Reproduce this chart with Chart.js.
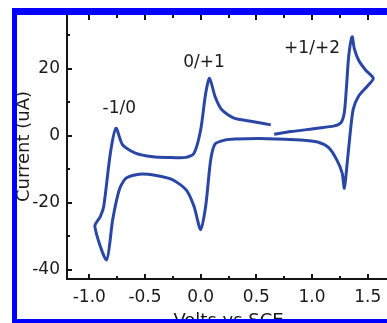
<!DOCTYPE html>
<html>
<head>
<meta charset="utf-8">
<script src="https://cdn.jsdelivr.net/npm/chart.js@4/dist/chart.umd.min.js"></script>
<style>
  html, body { margin: 0; padding: 0; background: #fff; overflow: hidden; }
  .grafico { position: absolute; left: 0; top: 0; width: 390px; height: 323px; }
  .moldura {
    position: absolute; left: 12px; top: 8px; width: 400px; height: 315px;
    box-sizing: border-box;
    border-left: 5px solid #0000ff; border-top: 7px solid #0000ff; border-bottom: 4px solid #0000ff;
  }
</style>
</head>
<body>
<div class="grafico"><canvas id="cv"></canvas></div>
<div class="moldura"></div>
<script>
// voltamograma: potencial (V vs SCE) e corrente (uA), na ordem da varredura
const volts = [0.63, 0.45, 0.30, 0.19, 0.13, 0.08, 0.045, 0.0, -0.06, -0.13, -0.30, -0.43, -0.58, -0.70, -0.76,
  -0.81, -0.87, -0.90, -0.95, -0.845, -0.79, -0.73, -0.67, -0.55, -0.40, -0.25, -0.13, -0.06, 0.0,
  0.045, 0.09, 0.13, 0.22, 0.31, 0.6, 0.9, 1.05, 1.15, 1.22, 1.27, 1.29, 1.31, 1.34, 1.37, 1.42, 1.50,
  1.55, 1.48, 1.42, 1.38, 1.36, 1.33, 1.31, 1.29, 1.26, 1.2, 1.05, 0.81, 0.66]
const corrente = [3.3, 4.4, 5.3, 7.8, 11.7, 17.2, 12.7, 1.8, -5.2, -6.4, -6.4, -6.2, -5.2, -2.7, 2.3,
  -5, -21, -24, -27, -37, -25, -16, -12.6, -11.4, -11.8, -13.1, -16.1, -21, -28,
  -21, -7.2, -2.4, -1.2, -0.9, -0.8, -1.2, -1.8, -3.5, -7, -11, -15.6, -10, 0, 8, 12, 15,
  17.2, 19.7, 22.5, 26, 29.6, 24, 15, 7, 4, 3, 2.3, 1.3, 0.5]

const xTicks = [-1.0, -0.5, 0.0, 0.5, 1.0, 1.5]
const xMinor = [-0.75, -0.25, 0.25, 0.75, 1.25]
const yTicks = [-40, -20, 0, 20]
const yMinor = [-30, -10, 10, 30]

// rotulos dos pares redox e onde ficam (V, uA)
const rotulos = ['-1/0', '0/+1', '+1/+2']
const rotuloV = [-0.73, 0.03, 1.0]
const rotuloI = [8.1, 21.9, 26]

const fonte = 'DejaVu Sans'

const eixos = {
  id: 'eixos',
  afterDraw(chart) {
    const { ctx, chartArea: a } = chart
    const x = chart.scales.x
    const y = chart.scales.y
    ctx.save()
    ctx.strokeStyle = '#151515'
    ctx.lineWidth = 2
    ctx.beginPath()
    ctx.moveTo(a.right, a.top)
    ctx.lineTo(a.left, a.top)
    ctx.lineTo(a.left, a.bottom)
    ctx.lineTo(a.right, a.bottom)
    ctx.stroke()

    // marcas para dentro
    ctx.lineWidth = 2
    ctx.beginPath()
    xTicks.concat(xMinor).forEach(v => {
      const px = Math.round(x.getPixelForValue(v))
      const len = xTicks.includes(v) ? 5 : 3
      ctx.moveTo(px, a.bottom)
      ctx.lineTo(px, a.bottom - len)
      ctx.moveTo(px, a.top)
      ctx.lineTo(px, a.top + len + 1)
    })
    yTicks.concat(yMinor).forEach(v => {
      const py = Math.round(y.getPixelForValue(v))
      const len = yTicks.includes(v) ? 5 : 3
      ctx.moveTo(a.left, py)
      ctx.lineTo(a.left + len, py)
    })
    ctx.stroke()

    ctx.fillStyle = '#1a1a1a'
    ctx.font = '17px "' + fonte + '"'
    ctx.textAlign = 'center'
    ctx.textBaseline = 'middle'
    rotulos.forEach((t, k) => {
      ctx.fillText(t, x.getPixelForValue(rotuloV[k]), y.getPixelForValue(rotuloI[k]))
    })
    ctx.restore()
  }
}

new Chart(document.getElementById('cv'), {
  type: 'scatter',
  data: {
    datasets: [
      {
        data: volts.map((v, k) => ({ x: v, y: corrente[k] })),
        showLine: true,
        borderColor: '#2b47a6',
        borderWidth: 3,
        pointRadius: 0,
        tension: 0.25,
        fill: false
      }
    ]
  },
  options: {
    responsive: true,
    maintainAspectRatio: false,
    animation: false,
    layout: { padding: { top: 14, right: 0, left: 0, bottom: 0 } },
    plugins: { legend: { display: false }, tooltip: { enabled: false } },
    scales: {
      x: {
        min: -1.2,
        max: 1.7,
        afterBuildTicks: s => { s.ticks = xTicks.map(v => ({ value: v })) },
        afterFit: s => {
          s.height = 44
          s.paddingLeft = 0
          s.paddingRight = 0
        },
        grid: { display: false, drawTicks: false },
        border: { display: false },
        ticks: {
          padding: 8,
          color: '#1a1a1a',
          font: { family: fonte, size: 17 },
          maxRotation: 0,
          callback: v => v.toFixed(1)
        },
        title: {
          display: true,
          text: 'Volts vs SCE',
          color: '#1a1a1a',
          font: { family: fonte, size: 18 },
          padding: { top: 0, bottom: -9 }
        }
      },
      y: {
        min: -42.7,
        max: 36.4,
        afterBuildTicks: s => { s.ticks = yTicks.map(v => ({ value: v })) },
        afterFit: s => {
          s.width = 67
          s.paddingTop = 0
          s.paddingBottom = 0
        },
        grid: { display: false, drawTicks: false },
        border: { display: false },
        ticks: {
          padding: 7,
          color: '#1a1a1a',
          font: { family: fonte, size: 17 }
        },
        title: {
          display: true,
          text: 'Current (uA)',
          color: '#1a1a1a',
          font: { family: fonte, size: 18 },
          padding: { top: 14, bottom: 0 }
        }
      }
    }
  },
  plugins: [eixos]
})
</script>
</body>
</html>
